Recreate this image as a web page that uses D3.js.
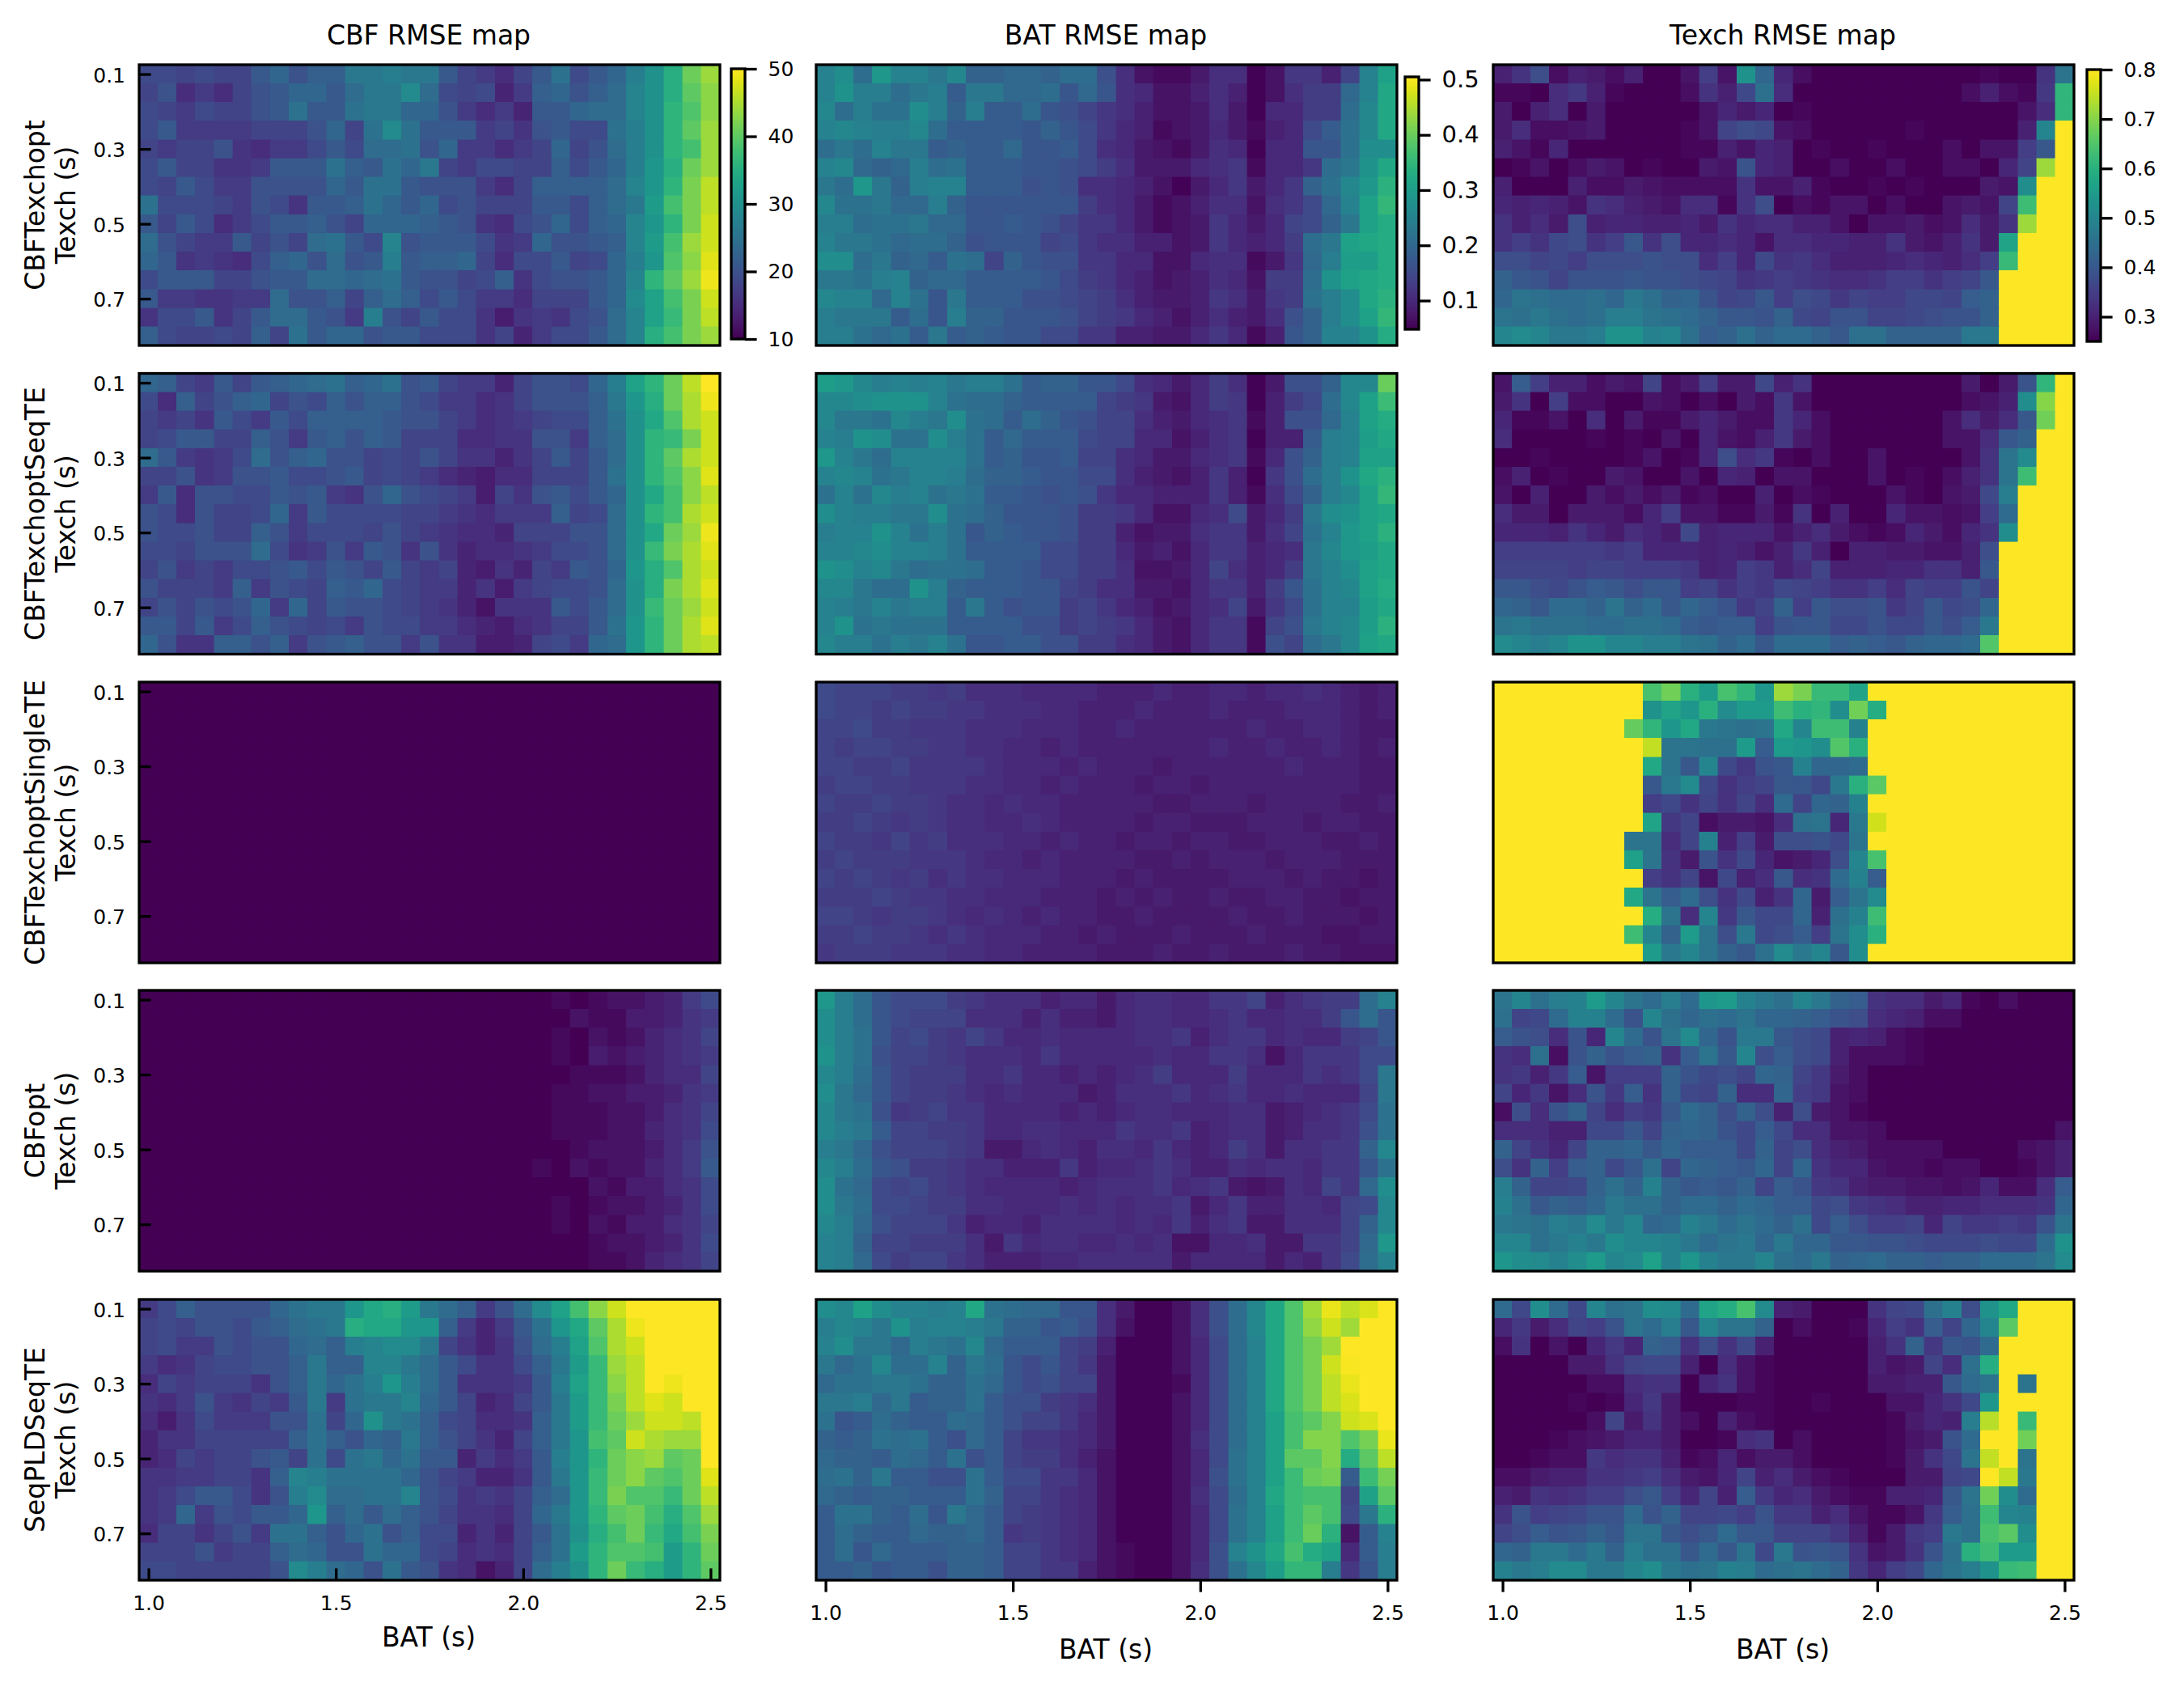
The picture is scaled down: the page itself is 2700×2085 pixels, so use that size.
<!DOCTYPE html>
<html><head><meta charset="utf-8">
<script src="https://cdn.jsdelivr.net/npm/d3@7"></script>
<style>html,body{margin:0;padding:0;background:#fff}svg{display:block}text{font-family:"DejaVu Sans",sans-serif;fill:#000}</style>
</head><body><div id="c"></div>
<script>
const batValues=[1,1.05,1.1,1.15,1.2,1.25,1.3,1.35,1.4,1.45,1.5,1.55,1.6,1.65,1.7,1.75,1.8,1.85,1.9,1.95,2,2.05,2.1,2.15,2.2,2.25,2.3,2.35,2.4,2.45,2.5];
const texchValues=[.1,.15,.2,.25,.3,.35,.4,.45,.5,.55,.6,.65,.7,.75,.8];
const batTicks=[1,1.5,2,2.5];
const texchTicks=[.1,.3,.5,.7];
const methods=["CBFTexchopt","CBFTexchoptSeqTE","CBFTexchoptSingleTE","CBFopt","SeqPLDSeqTE"];
const metricTitles=["CBF RMSE map","BAT RMSE map","Texch RMSE map"];
const cbarDomains=[[10,50],[.048,.505],[.25,.8]];
const cbarTicks=[[10,20,30,40,50],[.1,.2,.3,.4,.5],[.3,.4,.5,.6,.7,.8]];
// CBF RMSE in its own unit; BAT and Texch RMSE in hundredths of a second
const cbfTexchopt=[
[19,19,18,19,18,18,21,23,20,22,22,26,26,27,26,26,21,18,17,15,18,21,25,19,21,23,27,30,35,41,44],
[18,20,15,17,15,18,20,21,23,23,21,24,26,26,29,24,19,18,19,14,17,22,23,20,22,24,28,30,35,40,43],
[19,18,17,19,18,18,20,21,25,21,21,25,26,26,23,23,20,17,15,17,14,21,21,23,24,24,28,30,36,39,43],
[19,21,17,17,17,17,18,18,18,20,23,18,25,29,25,21,21,21,17,18,16,20,21,19,19,25,27,30,36,40,44],
[18,17,18,18,20,16,15,17,17,19,21,19,24,24,25,20,23,17,17,15,17,18,23,18,20,24,27,30,36,38,44],
[19,21,18,18,16,16,17,21,21,21,25,22,21,25,23,26,18,17,19,19,18,18,22,19,21,23,27,31,35,41,44],
[19,18,21,19,17,17,20,20,20,20,23,21,25,25,21,20,20,20,17,15,18,22,22,22,22,24,28,31,36,42,46],
[25,19,19,19,18,17,20,19,16,21,21,22,25,23,21,23,19,20,18,18,18,21,21,19,22,24,26,32,38,42,46],
[21,18,21,19,15,17,19,21,21,22,20,18,23,23,23,22,21,20,16,15,19,20,23,19,22,23,28,31,36,42,47],
[24,20,18,17,17,21,18,20,18,24,25,21,19,28,20,21,21,21,19,16,17,23,20,20,21,22,28,32,38,44,47],
[23,21,16,17,16,15,19,22,23,20,24,20,21,27,21,22,22,23,18,15,19,19,21,18,19,23,27,31,39,43,48],
[19,21,21,21,18,18,20,21,21,24,24,23,24,25,21,20,20,18,19,22,16,19,20,20,21,23,28,36,40,44,49],
[21,17,17,16,16,17,17,24,20,20,22,18,22,24,22,19,21,19,17,17,15,18,18,18,21,23,29,33,38,42,47],
[16,19,19,21,16,18,21,24,24,21,20,17,27,20,18,21,19,19,16,13,16,17,16,19,20,24,28,33,37,42,46],
[22,19,18,18,19,18,22,18,25,21,23,23,20,21,21,19,19,19,16,18,14,17,19,19,21,24,28,35,38,42,44]];
const batTexchopt=[
[25,27,21,29,25,25,23,26,19,19,20,20,19,21,21,16,11,7,6,6,8,11,11,5,7,12,12,9,14,25,31],
[25,28,24,24,21,23,24,18,23,23,20,20,21,17,20,17,11,10,7,7,9,11,9,5,7,11,13,13,20,25,32],
[26,21,24,22,22,27,24,19,24,18,18,21,17,16,14,12,11,9,7,7,8,11,8,5,10,10,13,13,21,26,32],
[25,26,25,24,24,26,21,18,18,18,18,17,19,17,15,12,10,9,6,7,8,10,8,6,9,10,15,18,22,26,32],
[21,23,21,25,23,23,18,19,18,18,20,17,17,18,15,11,10,8,7,6,8,11,10,5,10,10,17,17,22,27,27],
[25,26,20,19,20,24,21,22,18,18,18,17,17,16,15,13,11,8,8,8,10,11,12,6,10,10,12,21,23,28,32],
[23,21,29,23,19,24,25,25,18,18,18,16,17,16,11,11,10,9,7,5,8,10,12,8,10,12,19,22,26,29,34],
[26,22,22,23,20,20,24,19,17,17,17,17,17,17,13,11,10,8,6,7,9,11,11,7,11,12,15,20,25,31,35],
[24,24,21,22,22,23,20,20,17,17,18,17,16,14,12,12,10,8,6,7,8,12,10,8,10,14,15,19,23,31,33],
[25,23,23,22,20,21,21,19,16,17,17,17,14,15,12,11,11,9,9,7,8,12,10,9,10,13,21,23,31,32,33],
[27,27,21,23,19,20,18,22,21,14,19,17,16,16,12,12,10,10,7,7,10,11,11,6,8,12,20,24,30,30,33],
[23,23,22,24,25,19,20,20,18,18,18,18,17,15,13,12,10,9,7,8,9,11,10,7,13,13,21,28,31,32,33],
[26,25,25,20,25,22,17,23,18,18,18,16,16,15,14,13,11,9,8,8,9,12,11,8,12,13,22,24,27,32,34],
[24,23,23,23,18,21,17,24,19,19,17,17,17,16,14,13,12,10,9,7,9,11,9,8,11,16,19,24,27,31,35],
[24,24,22,20,22,18,23,18,19,18,17,17,15,15,12,12,9,9,8,8,10,12,10,6,9,17,19,25,25,28,33]];
const texchTexchopt=[
[30,33,38,27,30,29,27,30,25,25,28,35,28,53,43,31,27,25,25,25,25,25,25,25,25,25,26,25,25,33,46],
[26,26,25,32,34,30,26,25,25,25,27,33,30,37,45,32,25,25,25,25,25,25,25,25,25,27,30,27,26,34,61],
[29,25,30,32,25,29,25,25,25,25,25,28,31,29,31,25,26,25,25,25,25,25,25,25,25,25,25,25,28,32,61],
[29,32,27,27,28,29,25,25,25,25,26,28,36,38,37,28,27,25,25,25,25,25,26,25,25,25,25,25,30,50,80],
[30,28,26,31,25,25,25,25,25,25,26,26,30,28,31,30,25,26,25,25,26,25,25,25,27,25,28,28,35,40,80],
[25,26,28,25,27,29,28,25,26,25,25,29,28,39,31,30,25,25,27,25,25,27,25,25,27,27,25,31,36,72,80],
[30,25,25,25,30,27,27,29,28,27,27,27,27,33,28,28,30,26,25,25,26,25,26,25,25,25,29,28,52,80,80],
[31,30,31,30,28,33,32,30,29,28,32,32,26,33,38,25,27,26,28,28,25,27,25,25,28,29,28,36,63,80,80],
[33,30,32,29,38,30,31,31,30,30,31,29,33,31,32,32,30,30,28,25,28,28,29,27,28,32,29,33,72,80,80],
[33,35,33,37,38,33,35,40,33,38,31,31,32,31,28,32,32,31,31,30,30,33,29,28,30,33,29,57,80,80,80],
[38,38,36,37,35,38,38,38,39,38,38,32,35,31,37,33,34,32,30,30,30,31,32,31,30,32,35,62,80,80,80],
[42,40,39,36,39,39,39,40,39,39,38,37,36,33,34,35,34,33,32,32,33,35,35,33,35,36,40,80,80,80,80],
[43,46,45,44,44,45,43,47,45,42,43,39,36,37,40,35,38,37,34,36,35,35,37,37,36,41,42,80,80,80,80],
[46,45,47,45,44,45,48,48,46,45,44,42,40,40,39,42,37,36,39,39,36,36,37,38,39,39,42,80,80,80,80],
[50,51,50,47,47,48,53,53,49,50,45,41,42,45,42,44,44,42,40,45,45,42,42,42,42,47,47,80,80,80,80]];
const cbfSeqTE=[
[23,22,18,17,21,18,21,22,23,24,25,22,23,25,20,21,18,17,17,14,18,20,20,19,23,27,33,36,41,46,50],
[19,15,22,18,20,22,23,18,20,19,22,20,22,22,20,19,17,17,15,16,18,20,20,20,22,26,31,35,41,45,49],
[18,17,18,16,21,19,17,21,19,22,22,22,22,21,20,20,18,17,15,16,17,18,19,19,22,25,30,34,39,45,47],
[18,19,21,21,18,18,22,20,17,21,22,20,22,21,18,18,18,15,15,16,16,20,20,17,22,24,30,36,37,42,47],
[24,21,17,16,17,19,24,20,22,23,20,20,18,19,18,20,18,16,16,14,16,18,21,18,21,24,30,36,40,45,47],
[18,18,20,16,17,20,20,21,19,19,20,21,18,19,18,17,15,14,13,15,15,18,18,18,21,25,30,36,39,43,48],
[17,21,15,20,20,19,19,21,20,21,17,16,20,23,20,19,18,17,13,18,16,20,21,19,21,23,30,34,38,43,46],
[20,19,15,20,18,18,19,23,17,21,19,19,19,19,18,18,17,16,15,17,17,17,22,18,19,24,30,36,38,45,47],
[20,19,19,20,18,18,22,20,17,19,19,19,18,20,18,17,16,15,15,14,18,18,18,20,20,24,30,34,41,44,49],
[19,19,18,20,20,20,24,19,16,17,20,17,21,20,16,20,16,14,15,15,16,17,19,19,20,24,30,37,42,45,48],
[18,20,17,18,17,19,19,20,21,19,21,20,18,21,18,17,18,14,13,16,14,18,17,21,20,23,31,35,39,45,47],
[20,18,18,18,17,22,17,20,19,18,22,21,23,19,18,17,17,14,16,13,17,18,19,19,20,24,30,35,42,45,48],
[18,20,18,20,19,20,23,17,23,18,21,20,20,19,18,17,16,14,12,16,16,16,21,19,21,24,30,37,41,44,47],
[21,21,18,21,17,19,22,20,19,18,19,17,20,19,19,17,17,15,14,13,15,16,18,18,21,25,31,36,41,45,48],
[23,20,16,16,22,22,20,22,17,20,21,22,20,20,17,20,16,16,13,13,14,18,19,17,23,24,31,36,41,45,46]];
const batSeqTE=[
[30,29,26,24,25,24,25,23,24,24,22,18,19,19,17,17,15,11,10,8,10,13,11,5,8,16,16,19,26,26,40],
[26,26,27,28,28,28,25,22,21,21,19,18,18,18,18,14,13,12,8,7,10,13,12,5,9,13,15,21,26,31,36],
[26,23,23,22,26,24,23,27,22,21,18,21,19,17,16,14,14,11,9,8,10,11,12,6,9,16,16,20,25,31,33],
[25,24,28,27,22,22,27,24,22,18,20,18,18,18,15,14,14,10,10,7,9,11,12,5,9,9,18,24,25,30,32],
[29,25,23,21,25,25,25,25,22,18,19,17,17,18,14,14,11,10,8,8,10,11,12,6,10,16,19,24,25,31,31],
[25,26,25,22,23,25,25,24,21,19,19,18,17,17,15,15,11,9,8,7,9,12,9,5,12,16,21,24,28,32,34],
[22,25,22,26,24,25,22,23,22,18,18,17,16,17,16,12,10,10,9,9,9,12,9,6,11,15,19,24,26,31,35],
[27,25,24,24,23,23,27,22,21,19,17,17,17,16,13,13,12,10,7,7,10,11,15,8,10,13,23,27,28,31,32],
[24,25,25,28,25,22,24,22,17,19,18,17,17,16,13,13,9,7,8,8,11,12,12,8,11,14,22,25,29,31,34],
[25,25,26,27,25,25,24,22,18,18,18,18,15,15,13,13,10,8,9,7,10,12,12,9,10,11,23,26,29,30,32],
[28,27,25,26,23,21,22,22,21,18,18,17,15,15,13,13,11,7,7,8,10,14,11,9,10,13,23,25,27,31,32],
[26,26,23,21,21,28,24,19,18,18,18,17,17,14,13,11,11,8,8,7,10,12,12,9,13,17,22,25,26,31,33],
[25,24,23,25,23,24,24,18,23,18,16,17,17,13,14,12,10,9,7,8,10,11,14,8,12,15,22,25,25,30,32],
[25,28,22,23,22,22,22,18,18,18,18,16,16,13,14,13,12,10,8,7,10,12,12,6,14,16,23,25,26,30,34],
[26,24,24,22,24,23,25,22,17,17,18,18,16,16,13,13,11,10,8,7,10,12,12,6,16,14,21,23,26,31,32]];
const texchSeqTE=[
[28,41,35,30,30,27,29,28,36,27,29,35,29,29,37,30,33,25,25,25,25,25,25,25,25,29,25,29,39,61,80],
[29,33,25,35,27,27,25,25,28,27,25,27,25,29,27,34,28,25,25,25,25,25,25,25,25,27,28,30,52,70,80],
[31,26,26,28,25,32,25,29,26,26,29,31,29,27,27,34,31,27,25,25,25,25,25,25,28,32,29,32,40,68,80],
[32,25,25,25,25,26,25,26,25,28,25,31,28,27,30,34,29,27,25,25,25,25,25,25,28,28,32,40,42,80,80],
[25,25,26,25,25,25,25,26,28,25,26,31,38,32,34,26,25,27,25,25,28,25,25,25,25,28,33,46,51,80,80],
[27,30,25,26,25,25,29,28,25,25,28,25,31,30,25,28,28,25,25,25,28,25,26,25,27,30,33,46,63,80,80],
[28,25,30,25,25,29,27,29,27,29,26,27,25,25,30,25,27,26,25,25,25,28,26,25,28,29,37,48,80,80,80],
[32,29,29,25,29,29,29,27,31,35,28,28,26,26,29,26,33,25,30,25,25,31,28,28,27,28,35,44,80,80,80],
[31,31,31,30,33,31,29,32,31,29,37,30,31,31,31,28,30,32,29,27,26,27,31,29,27,31,33,52,80,80,80],
[35,35,35,35,35,35,34,35,31,31,31,30,31,30,28,30,34,30,25,30,30,29,29,28,28,30,38,80,80,80,80],
[36,36,36,36,35,36,36,35,35,35,34,30,31,35,34,30,32,36,30,30,30,31,31,33,33,30,40,80,80,80,80],
[40,40,38,37,39,41,40,38,40,40,35,36,33,35,34,37,36,35,33,33,35,32,36,35,35,39,36,80,80,80,80],
[43,42,40,44,44,42,46,42,44,40,43,41,39,34,36,42,35,40,38,38,39,34,36,40,37,38,43,80,80,80,80],
[46,47,45,45,45,44,44,45,45,44,41,40,41,41,35,39,40,40,37,37,39,37,37,40,38,41,47,80,80,80,80],
[51,50,48,50,53,53,50,50,48,48,46,45,42,44,40,44,44,44,41,42,41,40,42,43,43,44,65,80,80,80,80]];
const cbfSingleTE=[
[8,8,8,8,8,8,8,8,8,8,8,8,8,8,8,8,8,8,8,8,8,8,8,8,8,8,8,8,8,8,8],
[8,8,8,8,8,8,8,8,8,8,8,8,8,8,8,8,8,8,8,8,8,8,8,8,8,8,8,8,8,8,8],
[8,8,8,8,8,8,8,8,8,8,8,8,8,8,8,8,8,8,8,8,8,8,8,8,8,8,8,8,8,8,8],
[8,8,8,8,8,8,8,8,8,8,8,8,8,8,8,8,8,8,8,8,8,8,8,8,8,8,8,8,8,8,8],
[8,8,8,8,8,8,8,8,8,8,8,8,8,8,8,8,8,8,8,8,8,8,8,8,8,8,8,8,8,8,8],
[8,8,8,8,8,8,8,8,8,8,8,8,8,8,8,8,8,8,8,8,8,8,8,8,8,8,8,8,8,8,8],
[8,8,8,8,8,8,8,8,8,8,8,8,8,8,8,8,8,8,8,8,8,8,8,8,8,8,8,8,8,8,8],
[8,8,8,8,8,8,8,8,8,8,8,8,8,8,8,8,8,8,8,8,8,8,8,8,8,8,8,8,8,8,8],
[8,8,8,8,8,8,8,8,8,8,8,8,8,8,8,8,8,8,8,8,8,8,8,8,8,8,8,8,8,8,8],
[8,8,8,8,8,8,8,8,8,8,8,8,8,8,8,8,8,8,8,8,8,8,8,8,8,8,8,8,8,8,8],
[8,8,8,8,8,8,8,8,8,8,8,8,8,8,8,8,8,8,8,8,8,8,8,8,8,8,8,8,8,8,8],
[8,8,8,8,8,8,8,8,8,8,8,8,8,8,8,8,8,8,8,8,8,8,8,8,8,8,8,8,8,8,8],
[8,8,8,8,8,8,8,8,8,8,8,8,8,8,8,8,8,8,8,8,8,8,8,8,8,8,8,8,8,8,8],
[8,8,8,8,8,8,8,8,8,8,8,8,8,8,8,8,8,8,8,8,8,8,8,8,8,8,8,8,8,8,8],
[8,8,8,8,8,8,8,8,8,8,8,8,8,8,8,8,8,8,8,8,8,8,8,8,8,8,8,8,8,8,8]];
const batSingleTE=[
[15,14,14,14,13,13,12,13,11,11,11,10,10,10,10,9,9,9,10,9,9,10,10,9,10,10,11,10,9,8,9],
[15,14,14,13,14,13,13,12,12,11,11,11,10,10,9,9,9,10,9,9,9,10,9,9,9,10,10,10,9,8,9],
[14,14,15,13,13,12,12,12,11,11,11,10,10,10,9,9,10,9,9,9,9,9,9,10,9,9,10,10,9,8,8],
[14,13,14,14,13,13,12,12,11,11,10,10,9,10,9,9,9,9,9,9,9,10,9,9,10,9,9,10,9,8,9],
[14,14,13,13,14,12,12,12,12,11,10,10,10,9,10,9,9,9,8,9,9,9,9,9,9,10,9,9,9,8,8],
[13,14,14,13,13,12,12,12,11,11,10,10,9,10,9,9,9,8,9,9,8,9,9,9,9,9,9,9,9,8,8],
[14,13,13,14,13,13,12,11,11,10,11,10,10,9,9,9,9,9,8,8,9,9,9,8,9,9,9,9,8,8,9],
[13,13,14,13,12,13,12,11,11,10,10,11,10,9,9,9,9,8,9,9,8,8,8,9,9,9,8,9,9,8,8],
[14,13,13,12,14,12,13,11,11,11,10,10,9,10,9,9,8,9,9,8,9,9,8,8,9,9,9,8,8,9,8],
[13,14,13,13,13,12,12,12,11,10,10,9,10,9,9,9,9,8,8,9,8,9,9,9,8,9,9,9,8,8,8],
[14,13,14,13,12,13,11,12,11,11,10,10,10,9,9,9,8,9,8,8,8,8,9,9,9,8,9,8,8,7,8],
[13,13,13,14,13,12,12,11,11,10,10,10,9,9,9,8,9,8,9,8,8,9,8,8,9,9,8,8,7,8,8],
[14,14,13,12,13,13,12,11,10,11,10,9,10,9,9,8,8,9,8,8,8,8,9,8,8,9,8,8,8,7,8],
[13,13,14,13,13,12,11,12,11,10,10,10,9,9,8,9,8,8,8,9,8,8,8,9,8,8,8,7,7,8,8],
[12,13,13,13,12,12,12,11,11,10,10,9,9,9,9,8,8,8,9,8,8,9,8,8,8,9,8,8,7,7,7]];
const texchSingleTE=[
[80,80,80,80,80,80,80,80,64,68,60,55,64,61,54,72,69,62,62,57,80,80,80,80,80,80,80,80,80,80,80],
[80,80,80,80,80,80,80,80,53,57,54,60,51,55,55,63,60,61,52,68,59,80,80,80,80,80,80,80,80,80,80],
[80,80,80,80,80,80,80,67,61,54,58,47,46,45,46,58,50,63,63,49,80,80,80,80,80,80,80,80,80,80,80],
[80,80,80,80,80,80,80,80,75,46,46,45,45,55,41,55,54,52,65,60,80,80,80,80,80,80,80,80,80,80,80],
[80,80,80,80,80,80,80,80,58,46,40,50,37,34,39,40,49,43,43,44,80,80,80,80,80,80,80,80,80,80,80],
[80,80,80,80,80,80,80,80,40,47,51,37,33,35,36,40,40,37,47,60,66,80,80,80,80,80,80,80,80,80,80],
[80,80,80,80,80,80,80,80,35,37,33,36,33,36,32,44,36,43,42,49,80,80,80,80,80,80,80,80,80,80,80],
[80,80,80,80,80,80,80,80,57,34,36,27,29,29,28,32,45,46,31,47,76,80,80,80,80,80,80,80,80,80,80],
[80,80,80,80,80,80,80,46,46,32,36,49,30,35,29,38,38,39,37,46,80,80,80,80,80,80,80,80,80,80,80],
[80,80,80,80,80,80,80,56,46,33,29,39,33,37,31,28,29,31,38,50,64,80,80,80,80,80,80,80,80,80,80],
[80,80,80,80,80,80,80,80,35,33,36,28,37,30,32,40,32,33,44,49,41,80,80,80,80,80,80,80,80,80,80],
[80,80,80,80,80,80,80,58,46,41,44,38,33,37,30,33,43,29,41,46,51,80,80,80,80,80,80,80,80,80,80],
[80,80,80,80,80,80,80,80,59,46,32,50,34,40,37,37,43,30,45,49,63,80,80,80,80,80,80,80,80,80,80],
[80,80,80,80,80,80,80,63,50,42,55,46,38,47,37,38,41,35,46,52,60,80,80,80,80,80,80,80,80,80,80],
[80,80,80,80,80,80,80,80,55,47,50,46,42,40,45,51,47,50,40,52,80,80,80,80,80,80,80,80,80,80,80]];
const cbfOpt=[
[8,8,8,8,8,8,8,8,8,8,8,8,8,8,8,8,8,8,8,8,8,10,11,10,11,12,12,13,14,17,19],
[8,8,8,8,8,8,8,8,8,8,8,8,8,8,8,8,8,8,8,8,8,10,10,12,11,11,13,13,14,16,17],
[8,8,8,8,8,8,8,8,8,8,8,8,8,8,8,8,8,8,8,8,8,9,11,9,12,11,12,14,15,16,18],
[8,8,8,8,8,8,8,8,8,8,8,8,8,8,8,8,8,8,8,8,9,10,11,10,13,12,13,14,15,16,17],
[8,8,8,8,8,8,8,8,8,8,8,8,8,8,8,8,8,8,8,8,8,10,10,11,11,11,12,14,15,15,18],
[8,8,8,8,8,8,8,8,8,8,8,8,8,8,8,8,8,8,8,8,8,9,11,11,12,12,13,13,14,16,17],
[8,8,8,8,8,8,8,8,8,8,8,8,8,8,8,8,8,8,8,8,9,10,11,11,11,12,12,13,15,16,18],
[8,8,8,8,8,8,8,8,8,8,8,8,8,8,8,8,8,8,8,8,9,9,11,11,11,12,12,14,15,16,19],
[8,8,8,8,8,8,8,8,8,8,8,8,8,8,8,8,8,8,9,9,9,10,10,11,12,12,12,13,15,17,20],
[8,8,8,8,8,8,8,8,8,8,8,8,8,8,8,8,8,8,8,9,10,11,10,12,11,12,12,14,15,17,21],
[8,8,8,8,8,8,8,8,8,8,8,8,8,8,8,8,8,8,9,9,10,10,9,9,12,11,13,13,15,16,19],
[8,8,8,8,8,8,8,8,8,8,8,8,8,8,8,8,8,9,9,9,10,10,11,10,11,12,12,13,14,16,19],
[8,8,8,8,8,8,8,8,8,8,8,8,8,8,8,8,8,8,9,9,9,9,11,10,12,11,13,13,15,16,18],
[8,8,8,8,8,8,8,8,8,8,8,8,8,8,8,8,8,8,8,9,9,10,10,9,11,12,12,13,14,16,19],
[8,8,8,8,8,8,8,8,8,8,8,8,8,8,8,8,8,8,8,8,8,10,10,10,11,11,12,14,15,16,18]];
const batOpt=[
[29,24,21,17,15,15,15,13,12,11,11,11,9,10,10,8,10,11,11,10,10,12,12,14,9,11,12,13,13,21,25],
[27,24,21,17,15,14,14,14,11,11,11,9,11,9,9,8,10,11,11,10,10,11,12,10,10,11,11,13,17,21,17],
[27,24,22,17,14,15,13,12,14,12,10,10,11,10,10,10,10,11,11,12,9,11,12,12,10,11,10,10,13,14,17],
[28,24,22,16,14,14,13,12,11,11,11,10,12,10,10,10,10,10,11,10,10,12,12,11,7,10,12,12,12,15,15],
[26,24,21,17,14,13,13,13,11,11,12,10,10,9,10,9,10,11,13,10,10,10,13,10,10,10,12,11,12,15,23],
[27,23,20,17,14,13,13,12,11,10,11,10,10,10,8,9,11,11,11,12,10,11,12,10,10,11,10,10,10,14,23],
[26,23,22,16,12,13,14,12,12,10,10,10,10,9,10,9,10,11,11,10,10,10,11,11,8,9,10,11,12,15,22],
[26,24,23,18,14,14,13,13,12,10,10,11,11,10,10,10,12,11,11,12,9,10,11,11,8,9,11,11,12,16,22],
[24,23,20,16,14,14,14,13,12,8,8,10,11,10,9,11,11,10,12,10,9,10,13,11,8,11,11,12,12,19,26],
[26,24,21,17,16,13,13,12,11,11,9,9,9,12,9,10,10,11,12,11,9,9,11,10,11,11,10,12,12,17,22],
[27,22,20,15,14,15,13,12,11,10,10,10,10,9,10,11,11,11,12,10,11,12,8,7,8,11,10,14,12,20,27],
[27,23,21,15,15,14,13,13,11,11,10,10,10,11,10,11,10,11,11,12,8,10,12,9,9,11,11,10,14,15,26],
[26,24,20,16,14,14,14,12,9,10,10,9,11,11,11,11,10,11,10,12,9,11,12,8,8,11,11,11,14,19,26],
[25,24,19,14,14,13,13,13,11,8,12,10,11,11,10,10,11,10,11,7,7,10,10,11,8,8,12,12,14,20,29],
[25,24,20,15,13,14,14,12,11,9,9,9,10,10,11,11,11,11,11,8,10,10,10,10,8,10,9,12,15,21,25]];
const texchOpt=[
[46,50,45,48,49,55,50,46,44,48,44,54,55,49,47,45,50,47,42,41,33,32,32,29,31,26,25,27,25,25,25],
[45,36,37,44,49,49,44,39,50,45,43,45,44,46,43,43,42,41,39,38,32,31,30,27,27,25,25,25,25,25,25],
[41,39,38,32,39,31,50,44,39,46,51,43,39,47,47,40,38,37,30,31,30,27,26,25,25,25,25,25,25,25,25],
[33,32,45,27,39,42,39,41,42,33,41,46,40,50,38,41,38,37,30,27,27,27,26,25,25,25,25,25,25,25,25],
[33,34,30,34,41,28,35,35,35,42,39,37,38,36,43,42,36,34,29,27,25,25,25,25,25,25,25,25,25,25,25],
[36,31,34,28,32,39,34,41,33,42,37,36,42,32,32,43,35,34,28,27,25,25,25,25,25,25,25,25,25,25,25],
[27,38,32,39,42,36,32,35,34,40,44,42,38,42,38,30,38,29,28,26,25,25,25,25,25,25,25,25,25,25,25],
[32,32,32,30,30,37,37,40,36,42,43,42,39,37,41,37,32,32,28,28,27,25,25,25,25,25,25,25,25,25,28],
[42,36,33,31,36,42,42,43,40,43,41,41,41,37,42,36,38,32,30,29,27,27,27,27,25,25,25,25,27,28,30],
[38,33,42,35,41,42,37,40,45,36,43,42,41,40,43,36,43,33,31,31,28,27,27,26,27,27,25,25,26,28,30],
[48,42,36,36,37,42,45,42,49,42,40,41,40,42,36,41,39,34,33,30,29,29,28,28,27,28,31,27,27,32,41],
[49,45,40,42,41,43,47,45,45,42,44,44,42,44,43,41,41,37,38,34,33,32,30,30,31,31,32,32,32,33,43],
[47,46,45,48,47,51,47,50,43,44,49,47,44,46,44,42,45,37,41,38,35,35,36,31,36,34,34,35,34,39,46],
[50,50,45,47,49,47,52,50,50,49,47,44,46,47,43,47,43,43,40,40,39,39,38,37,37,37,38,37,37,44,53],
[54,52,51,49,52,55,50,51,56,49,54,49,47,47,50,45,44,47,42,43,44,42,42,41,42,42,44,44,44,46,51]];
const cbfSeqPLD=[
[17,19,22,20,20,20,20,23,25,26,26,31,34,35,32,26,24,22,17,20,24,29,33,38,43,47,52,52,52,52,52],
[18,19,18,20,20,19,21,22,24,25,26,35,34,34,31,31,22,17,14,17,21,25,31,34,40,45,49,52,52,52,52],
[18,19,17,17,20,19,20,20,23,24,22,27,28,29,29,26,18,16,14,16,20,24,27,33,39,45,47,52,52,52,52],
[17,15,16,18,19,19,20,20,22,26,22,22,28,28,26,24,21,19,16,16,19,22,26,32,37,44,46,52,52,52,52],
[15,18,17,18,18,18,16,20,22,26,23,25,27,31,27,24,21,16,16,16,17,21,27,33,37,43,46,50,49,52,52],
[16,15,17,20,17,16,18,17,21,26,17,25,26,26,28,23,21,18,14,15,18,21,26,32,37,42,46,48,47,52,52],
[15,13,16,19,17,17,17,20,20,25,18,23,30,26,25,22,19,18,15,15,16,22,26,32,37,41,44,47,47,46,52],
[14,16,16,18,18,18,18,18,22,25,22,20,23,22,26,22,20,18,16,14,18,22,26,31,38,40,47,45,44,44,50],
[14,15,18,17,18,18,20,21,18,25,19,25,26,23,25,21,21,14,17,15,17,21,27,31,36,41,43,44,40,41,50],
[16,16,17,17,18,18,16,22,28,27,25,25,25,25,23,20,18,17,14,14,16,21,26,31,37,41,43,40,39,41,48],
[16,17,19,21,21,19,16,20,27,29,24,24,25,25,28,20,19,16,17,16,18,22,24,31,37,42,39,39,37,41,46],
[16,17,23,17,20,19,21,21,23,31,22,24,21,24,22,20,18,16,16,15,18,23,26,31,36,40,41,38,35,39,44],
[15,18,18,16,18,20,17,25,25,22,20,23,25,20,22,19,19,14,16,14,18,21,25,30,35,38,41,37,34,38,42],
[18,18,18,20,17,18,18,22,24,23,20,20,25,23,23,19,18,15,16,15,18,22,25,32,36,39,39,38,32,36,41],
[19,19,18,18,18,18,18,20,29,27,24,23,20,25,21,20,16,15,12,14,18,24,27,30,36,41,37,35,32,36,40]];
const batSeqPLD=[
[27,26,31,27,25,25,24,25,32,22,21,20,20,17,17,11,8,5,5,7,11,16,21,26,32,38,44,49,46,48,52],
[24,26,25,23,28,24,25,25,24,23,19,19,17,18,16,11,7,5,5,7,11,16,21,26,32,38,43,47,44,52,52],
[25,27,23,23,20,24,23,22,26,20,18,18,18,14,13,9,5,5,5,7,10,15,21,25,32,38,41,44,51,52,52],
[23,20,22,26,21,21,25,19,23,21,17,15,17,14,12,8,5,5,5,7,10,15,21,25,32,38,41,47,50,52,52],
[20,22,22,23,23,22,19,19,22,20,17,15,16,14,14,8,5,5,5,6,10,15,21,25,32,38,41,46,49,52,52],
[23,23,24,20,23,18,19,19,22,18,16,16,13,12,11,8,5,5,5,7,10,15,21,25,32,38,41,46,48,52,52],
[22,17,18,21,19,18,18,21,20,18,16,14,14,12,10,8,5,5,5,7,10,15,21,25,31,37,39,42,47,48,51],
[19,18,19,22,21,22,18,16,20,18,14,12,12,11,10,8,5,5,5,7,11,15,21,25,31,37,42,42,38,41,49],
[20,19,19,18,21,20,18,22,16,18,14,13,13,11,9,7,5,5,5,7,10,15,22,25,31,39,39,42,33,39,46],
[21,22,19,23,18,18,16,16,22,18,15,15,12,12,10,7,5,5,5,7,10,16,22,25,31,36,40,41,18,36,41],
[20,19,18,19,19,18,18,18,22,19,14,14,12,11,10,7,5,5,5,7,11,15,21,25,32,36,37,37,14,31,39],
[18,22,22,19,18,21,17,23,20,18,14,13,12,11,10,7,5,5,5,7,10,15,22,25,31,36,39,37,15,23,34],
[18,21,19,18,18,20,19,19,20,18,12,13,12,11,10,7,5,5,5,7,10,15,22,25,31,36,40,34,7,18,25],
[18,21,17,20,18,18,18,19,19,18,14,14,12,11,10,7,6,5,5,7,10,16,25,28,32,37,33,31,10,18,24],
[18,18,19,17,18,18,16,19,19,18,14,14,12,12,9,7,6,5,5,7,11,16,22,26,30,35,35,24,12,17,24]];
const texchSeqPLD=[
[44,37,52,44,37,50,45,46,52,51,44,57,59,64,51,30,29,25,25,25,33,36,37,45,49,38,53,58,80,80,80],
[31,34,29,32,36,35,39,46,44,48,40,50,46,46,42,25,27,25,25,26,31,35,33,41,36,43,50,66,80,80,80],
[27,33,25,28,25,31,34,31,42,41,33,38,33,37,30,25,25,25,25,25,30,33,42,34,40,39,44,80,80,80,80],
[25,25,25,25,29,29,33,36,37,37,30,25,32,28,26,25,25,25,25,25,30,28,29,36,32,45,59,80,80,80,80],
[25,25,25,25,25,27,27,32,33,33,25,31,33,28,26,25,25,25,25,25,29,29,30,30,40,44,46,80,46,80,80],
[25,25,25,25,26,25,26,31,34,29,25,25,25,26,26,25,25,26,25,25,25,28,28,31,33,37,54,80,80,80,80],
[25,25,25,25,25,27,36,29,33,29,27,25,30,27,26,25,25,25,25,25,25,26,29,31,30,48,74,80,62,80,80],
[25,25,25,26,27,28,29,31,31,29,25,25,26,32,33,25,27,25,25,25,25,26,28,29,39,44,80,80,68,80,80],
[25,25,26,27,27,34,32,33,33,30,26,27,31,27,29,29,27,25,25,25,25,26,29,33,37,46,75,80,46,80,80],
[27,27,29,30,30,33,33,34,35,32,29,28,31,36,30,32,29,27,26,25,25,25,29,29,36,37,80,75,47,80,80],
[30,29,33,32,33,35,35,38,40,35,31,36,30,41,34,31,32,29,27,26,26,30,30,31,40,46,68,52,44,80,80],
[33,39,35,36,37,39,39,44,39,42,36,36,37,35,39,34,34,30,32,28,26,26,28,34,41,45,63,50,49,80,80],
[36,38,41,39,40,42,40,46,46,40,38,40,44,40,40,36,36,36,34,30,26,29,34,35,47,45,64,66,52,80,80],
[43,42,47,47,44,47,42,48,45,45,40,44,40,46,37,47,39,40,39,33,28,29,33,39,45,60,63,55,55,80,80],
[49,47,48,51,51,47,47,50,52,47,45,46,49,48,44,45,46,44,42,34,31,35,37,43,46,48,53,62,63,80,80]];
const panelGrid=[
[cbfTexchopt,batTexchopt,texchTexchopt],
[cbfSeqTE,batSeqTE,texchSeqTE],
[cbfSingleTE,batSingleTE,texchSingleTE],
[cbfOpt,batOpt,texchOpt],
[cbfSeqPLD,batSeqPLD,texchSeqPLD]];
const valueFactor=[1,.01,.01];

const W=2700,H=2085;
const colX=[172,1009,1846],rowY=[80,461.5,843,1224,1606],pw=718,ph=347;
const cbarBox=[{x:904,top:85,bot:419},{x:1737,top:95,bot:407},{x:2580,top:86,bot:422}];
const cbarFont=[25,29,25];
const LW=3.3,TL=14.6;
const svg=d3.select("#c").append("svg").attr("width",W).attr("height",H).attr("viewBox",[0,0,W,H]);
const fmt=d3.format(".1f");

metricTitles.forEach((t,c)=>{
  svg.append("text").attr("x",colX[c]+pw/2-1).attr("y",55).attr("text-anchor","middle").attr("font-size",33).text(t);
});

panelGrid.forEach((rows,r)=>{
  rows.forEach((grid,c)=>{
    const g=svg.append("g").attr("transform",`translate(${colX[c]},${rowY[r]})`);
    const x=d3.scaleLinear().domain([.975,2.525]).range([0,pw]);
    const y=d3.scaleLinear().domain([.075,.825]).range([0,ph]);
    const color=d3.scaleSequential(d3.interpolateViridis).domain(cbarDomains[c]).clamp(true);
    const cells=grid.flatMap((row,i)=>row.map((v,j)=>({bat:batValues[j],tex:texchValues[i],v:v*valueFactor[c]})));
    g.selectAll("rect.cell").data(cells).join("rect").attr("class","cell")
      .attr("x",d=>x(d.bat-.025)).attr("y",d=>y(d.tex-.025))
      .attr("width",d=>x(d.bat+.025)-x(d.bat-.025)).attr("height",d=>y(d.tex+.025)-y(d.tex-.025))
      .attr("fill",d=>color(d.v)).attr("stroke",d=>color(d.v)).attr("stroke-width",.4).attr("shape-rendering","crispEdges");
    if(c===0){
      const ax=d3.axisLeft(y).tickValues(texchTicks).tickFormat(fmt).tickSize(-TL).tickPadding(17);
      const ag=g.append("g").call(ax);
      ag.select(".domain").remove();
      ag.selectAll("line").attr("stroke","#000").attr("stroke-width",LW);
      ag.selectAll("text").attr("font-size",25).attr("dy","0.38em").attr("fill","#000").attr("font-family",'"DejaVu Sans"');
      const lab=svg.append("text").attr("transform",`translate(55,${rowY[r]+ph/2}) rotate(-90)`).attr("text-anchor","middle").attr("font-size",33);
      lab.append("tspan").attr("x",0).attr("y",0).text(methods[r]);
      lab.append("tspan").attr("x",0).attr("y",38).text("Texch (s)");
    }
    if(r===4){
      const out=c>0;
      const ax=d3.axisBottom(x).tickValues(batTicks).tickFormat(fmt).tickSize(out?TL:-TL).tickPadding(out?17:19);
      const ag=g.append("g").attr("transform",`translate(0,${ph})`).call(ax);
      ag.select(".domain").remove();
      ag.selectAll("line").attr("stroke","#000").attr("stroke-width",LW);
      ag.selectAll("text").attr("font-size",25).attr("fill","#000").attr("font-family",'"DejaVu Sans"');
      g.append("text").attr("x",pw/2-1).attr("y",ph+(out?97:82)).attr("text-anchor","middle").attr("font-size",33).text("BAT (s)");
    }
    g.append("rect").attr("width",pw).attr("height",ph).attr("fill","none").attr("stroke","#000").attr("stroke-width",LW);
  });
});

cbarBox.forEach((b,c)=>{
  const bw=17;
  const s=d3.scaleLinear().domain(cbarDomains[c]).range([b.bot,b.top]);
  const color=d3.scaleSequential(d3.interpolateViridis).domain(cbarDomains[c]);
  const g=svg.append("g");
  const n=b.bot-b.top;
  const steps=d3.range(n);
  g.selectAll("rect").data(steps).join("rect")
    .attr("x",b.x).attr("y",i=>b.top+i).attr("width",bw).attr("height",1.5)
    .attr("fill",i=>color(s.invert(b.top+i+.5))).attr("shape-rendering","crispEdges");
  g.append("rect").attr("x",b.x).attr("y",b.top).attr("width",bw).attr("height",n).attr("fill","none").attr("stroke","#000").attr("stroke-width",LW);
  const ax=d3.axisRight(s).tickValues(cbarTicks[c]).tickFormat(c===0?d3.format("d"):fmt).tickSize(TL).tickPadding(14);
  const ag=svg.append("g").attr("transform",`translate(${b.x+bw},0)`).call(ax);
  ag.select(".domain").remove();
  ag.selectAll("line").attr("stroke","#000").attr("stroke-width",LW);
  ag.selectAll("text").attr("font-size",cbarFont[c]).attr("fill","#000").attr("font-family",'"DejaVu Sans"');
});
</script></body></html>
